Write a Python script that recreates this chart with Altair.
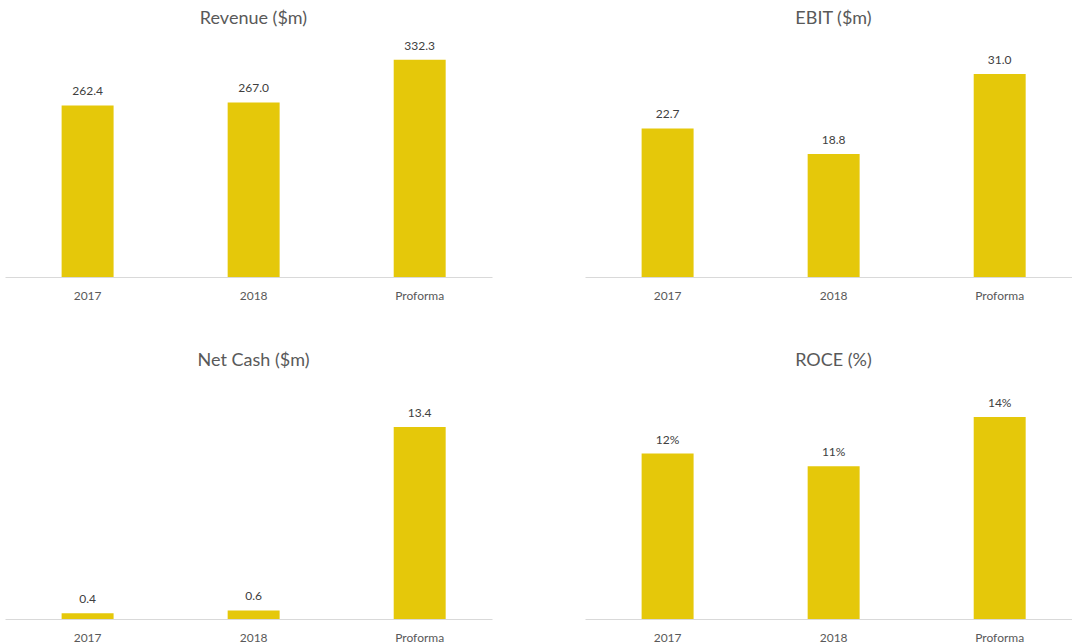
import altair as alt
import pandas as pd

categories = ["2017", "2018", "Proforma"]
revenue = [262.4, 267.0, 332.3]
ebit = [22.7, 18.8, 31.0]
net_cash = [0.4, 0.6, 13.4]
roce = [0.118, 0.109, 0.144]

BAR = "#E5C80A"
FONT = "Lato"


def panel(title, values, ymax, fmt):
    df = pd.DataFrame({"cat": categories, "val": values})
    base = alt.Chart(df).encode(
        x=alt.X(
            "cat:N",
            sort=categories,
            scale=alt.Scale(paddingInner=0.687, paddingOuter=0.31, align=0.55),
            axis=alt.Axis(
                title=None,
                labelAngle=0,
                ticks=False,
                domainColor="#D9D9D9",
                domainWidth=1,
                labelColor="#595959",
                labelFontSize=12,
                labelFont=FONT,
                labelPadding=13,
            ),
        ),
        y=alt.Y("val:Q", scale=alt.Scale(domain=[0, ymax]), axis=None),
    )
    bars = base.mark_bar(color=BAR)
    text = base.mark_text(
        baseline="bottom", dy=-7, fontSize=12, color="#404040", font=FONT
    ).encode(text=alt.Text("val:Q", format=fmt))
    return alt.layer(bars, text).properties(
        width=487,
        height=237,
        title=alt.TitleParams(
            title,
            dx=5,
            fontSize=18,
            font=FONT,
            fontWeight="normal",
            color="#595959",
            offset=12,
        ),
    )


top = alt.hconcat(
    panel("Revenue ($m)", revenue, 362.4, ".1f"),
    panel("EBIT ($m)", ebit, 36.2, ".1f"),
    spacing=93,
)
bottom = alt.hconcat(
    panel("Net Cash ($m)", net_cash, 16.55, ".1f"),
    panel("ROCE (%)", roce, 0.169, ".0%"),
    spacing=93,
)

chart = (
    alt.vconcat(top, bottom, spacing=51)
    .properties(padding={"left": 5, "top": 9, "right": 0, "bottom": 0})
    .configure_view(strokeWidth=0)
)

chart.save("out.html", embed_options={"renderer": "svg", "actions": False})
